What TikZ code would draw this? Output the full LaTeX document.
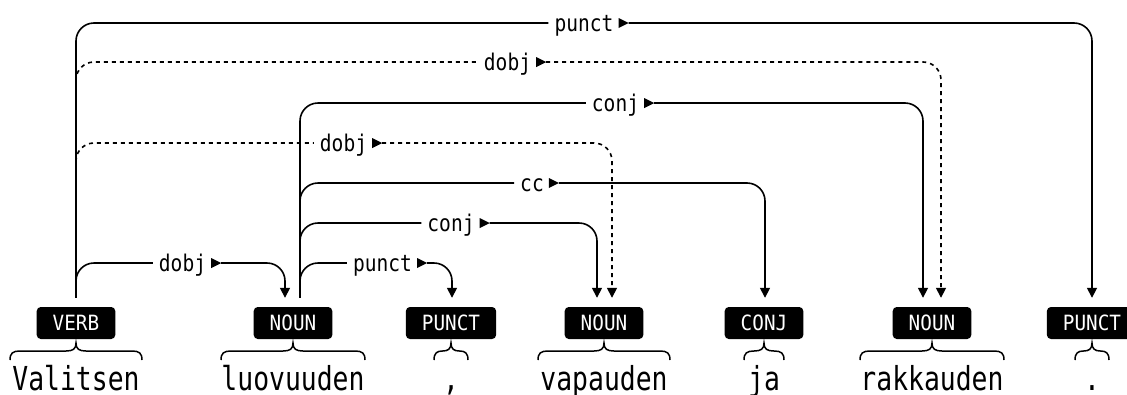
\documentclass[tikz,border=0pt]{standalone}
\usepackage{fontspec}
\usetikzlibrary{arrows.meta}
\newfontfamily\lblfont[FakeStretch=0.85]{DejaVu Sans Mono}
\newfontfamily\wordfont[FakeStretch=0.8]{DejaVu Sans Mono}
\newfontfamily\tagfont[FakeStretch=0.92]{DejaVu Sans Mono}
\newcommand\rel[1]{\kern6pt#1\kern15pt}

\begin{document}
\begin{tikzpicture}[x=1pt,y=-1pt,
  tag/.style={fill=black,text=white,rounded corners=4pt,minimum height=32pt,
    inner xsep=16pt,inner ysep=0pt,text height=15pt,text depth=0pt,
    font=\tagfont\fontsize{21}{23}\selectfont},
  word/.style={anchor=base,inner sep=0pt,text depth=0pt,
    font=\wordfont\fontsize{33}{35}\selectfont},
  lbl/.style={inner xsep=0pt,inner ysep=0pt,text height=20pt,text depth=4pt,
    font=\lblfont\fontsize{23}{25}\selectfont},
  dep/.style={line width=1.6pt,rounded corners=18pt,-{Triangle[width=10pt,length=10pt]}},
  depdot/.style={dep,dash pattern=on 4pt off 4pt},
  brc/.style={line width=1.5pt}]
\useasboundingbox (0,0) rectangle (1127,394);
\clip (0,0) rectangle (1127,394);

% part-of-speech tags
\foreach \n/\x/\t in {t1/76/VERB,t2/293/NOUN,t3/451/PUNCT,t4/604/NOUN,
                      t5/764/CONJ,t6/932/NOUN,t7/1092/PUNCT}
  \node[tag] (\n) at (\x,323) {\t};

% words
\foreach \n/\x/\t in {w1/76/Valitsen,w2/293/luovuuden,w3/451/{,},w4/604/vapauden,
                      w5/764/ja,w6/932/rakkauden,w7/1092/.}
  \node[word] (\n) at (\x,390) {\t};

% braces between tags and words
\foreach \c/\h in {76/66,293/72,451/17,604/66,764/20,932/72,1092/17}{
  \pgfmathsetmacro{\r}{min(10,\h/2)}
  \draw[brc] (\c-\h,360) .. controls (\c-\h,353) and (\c-\h+3,351) .. (\c-\h+\r,351)
    -- (\c-\r,351) .. controls (\c-3,351) and (\c,349) .. (\c,343)
    .. controls (\c,349) and (\c+3,351) .. (\c+\r,351)
    -- (\c+\h-\r,351) .. controls (\c+\h-3,351) and (\c+\h,353) .. (\c+\h,360);
}

% connector ends above the tags
\coordinate (v1)   at ([yshift=9pt]t1.north);
\coordinate (n2in) at ([xshift=-8pt,yshift=9pt]t2.north);
\coordinate (n2)   at ([xshift=7pt,yshift=9pt]t2.north);
\coordinate (p3in) at ([xshift=1pt,yshift=9pt]t3.north);
\coordinate (n4a)  at ([xshift=-7pt,yshift=9pt]t4.north);
\coordinate (n4b)  at ([xshift=8pt,yshift=9pt]t4.north);
\coordinate (c5in) at ([xshift=1pt,yshift=9pt]t5.north);
\coordinate (n6a)  at ([xshift=-9pt,yshift=9pt]t6.north);
\coordinate (n6b)  at ([xshift=9pt,yshift=9pt]t6.north);
\coordinate (p7in) at ([yshift=9pt]t7.north);

% relation labels, each followed by a small direction triangle
\node[lbl] (l1) at (588.5,23)  {\rel{punct}};
\node[lbl] (l2) at (512,62)    {\rel{dobj}};
\node[lbl] (l3) at (620,103)   {\rel{conj}};
\node[lbl] (l4) at (348,143)   {\rel{dobj}};
\node[lbl] (l5) at (536.5,183) {\rel{cc}};
\node[lbl] (l6) at (455.5,223) {\rel{conj}};
\node[lbl] (l7) at (187,263)   {\rel{dobj}};
\node[lbl] (l8) at (387,263)   {\rel{punct}};
\foreach \l in {l1,l2,l3,l4,l5,l6,l7,l8}
  \fill (\l.east) -- ++(-10,-5) -- ++(0,10) -- cycle;

% dependency arcs
\draw[dep]    (v1) |- (l1) -| (p7in);
\draw[dep]    (n2) |- (l3) -| (n6a);
\draw[dep]    (n2) |- (l5) -| (c5in);
\draw[dep]    (n2) |- (l6) -| (n4a);
\draw[dep]    (v1) |- (l7) -| (n2in);
\draw[dep]    (n2) |- (l8) -| (p3in);
\draw[depdot] (v1) |- (l2) -| (n6b);
\draw[depdot] (v1) |- (l4) -| (n4b);
\end{tikzpicture}
\end{document}
